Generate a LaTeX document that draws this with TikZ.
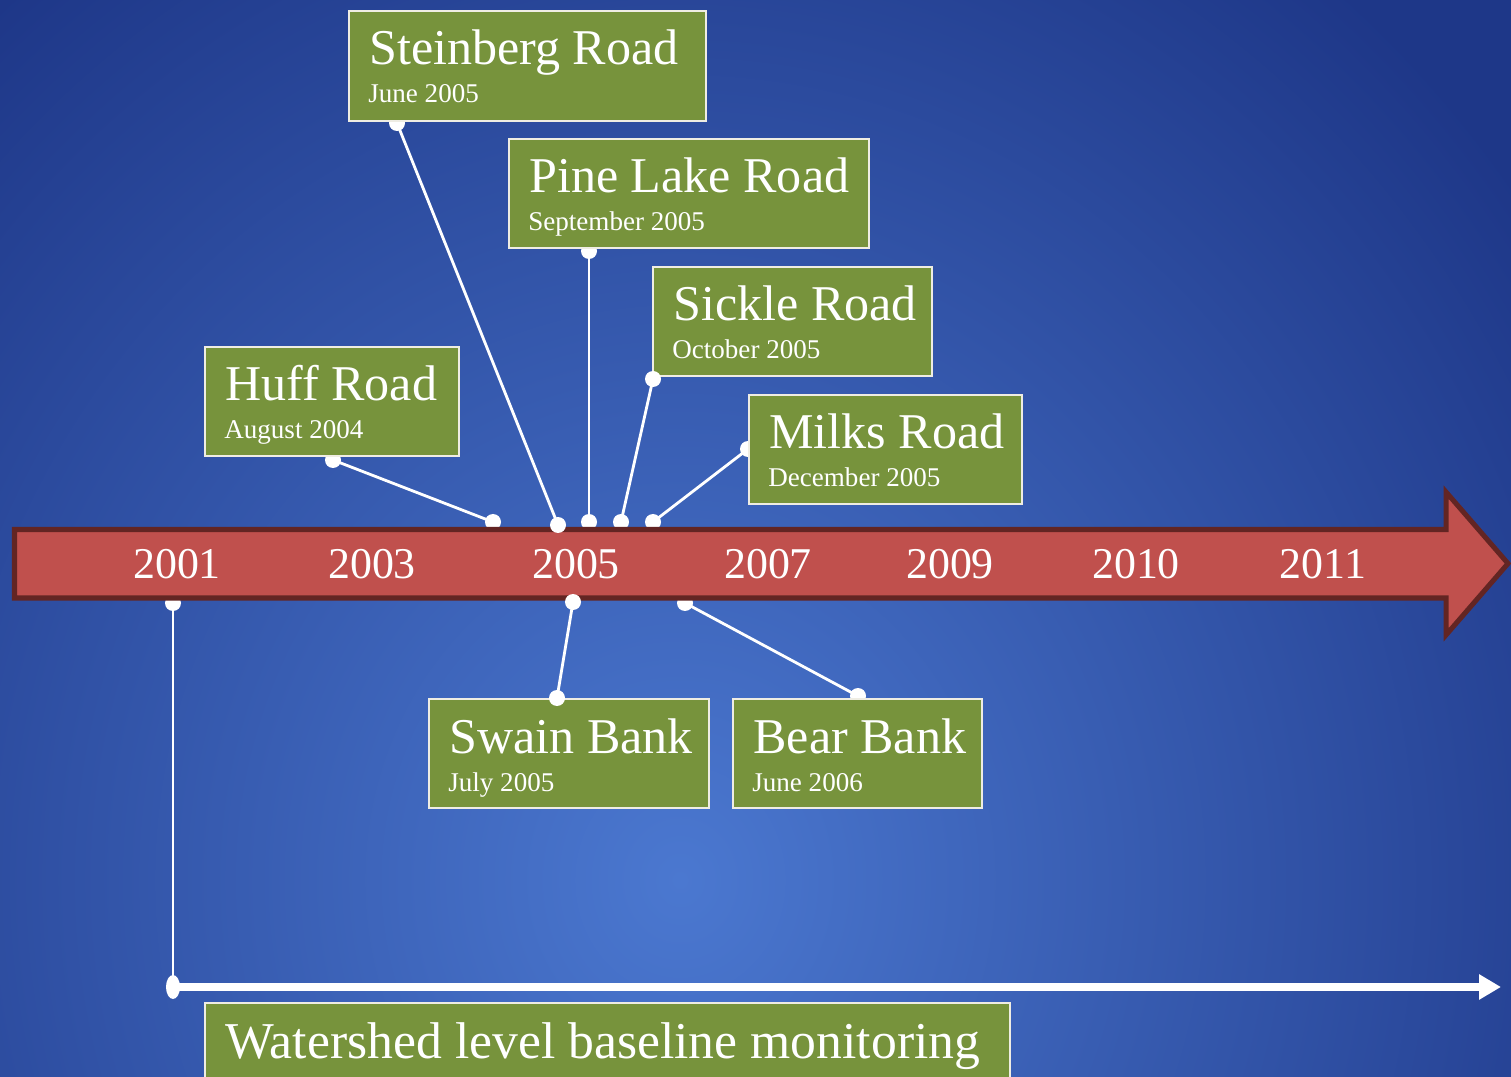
\documentclass[tikz,border=0pt]{standalone}
\usepackage{fontspec}
\setmainfont{Liberation Serif}
\usetikzlibrary{fit,arrows.meta}
\definecolor{bgin}{HTML}{4B78D0}
\definecolor{bgout}{HTML}{1E3788}
\definecolor{boxgreen}{HTML}{77933C}
\definecolor{boxborder}{HTML}{EFEDE3}
\definecolor{arrowfill}{HTML}{C0504D}
\definecolor{arrowborder}{HTML}{632523}
\tikzset{
  box/.style={draw=boxborder, line width=1.2pt, fill=boxgreen, inner sep=0pt},
  ttl/.style={anchor=base west, inner sep=0pt, text=white, font=\fontsize{28.5}{30}\selectfont},
  sub/.style={anchor=base west, inner sep=0pt, text=white, font=\fontsize{15.4}{17}\selectfont},
  yr/.style={anchor=base, inner sep=0pt, text=white, font=\fontsize{25}{27}\selectfont},
  conn/.style={draw=white, line width=1.6pt},
  dot/.style={fill=white},
}
\begin{document}
\begin{tikzpicture}[x=0.2mm,y=-0.2mm]
\useasboundingbox (0,0) rectangle (1511,1077);
\clip (0,0) rectangle (1511,1077);
% background
\fill[bgout] (0,0) rectangle (1511,1077);
\shade[inner color=bgin, outer color=bgout] (680,880) ellipse (1050 and 1150);

% dot coordinates
\coordinate (huffA) at (333,460);   \coordinate (huffB) at (493,522);
\coordinate (steinA) at (397,123);  \coordinate (steinB) at (558,525);
\coordinate (pineA) at (589,251);   \coordinate (pineB) at (589,522);
\coordinate (sickA) at (653,379);   \coordinate (sickB) at (621,522);
\coordinate (milkA) at (748,449);   \coordinate (milkB) at (653,522);
\coordinate (swainA) at (573,602);  \coordinate (swainB) at (557,698);
\coordinate (bearA) at (685,603);   \coordinate (bearB) at (858,696);
\coordinate (baseA) at (173,603);   \coordinate (baseB) at (173,987);
\coordinate (baseE) at (1501,987);

% connectors (under arrow and boxes)
\draw[conn] (huffA) -- (huffB);
\draw[conn] (steinA) -- (steinB);
\draw[conn] (pineA) -- (pineB);
\draw[conn] (sickA) -- (sickB);
\draw[conn] (milkA) -- (milkB);
\draw[conn] (swainA) -- (swainB);
\draw[conn] (bearA) -- (bearB);
\draw[conn] (baseA) -- (baseB);
\draw[draw=white, line width=4pt, -{Triangle[length=12.5pt,width=13.7pt]}] (baseB) -- (baseE);
\foreach \c in {huffA,huffB,steinA,pineA,pineB,sickB,milkA,milkB,bearA,bearB,baseA}
  \fill[dot] (\c) circle (8);
\fill[dot] (baseB) ellipse (7 and 12);

% main arrow
\path[draw=arrowborder, line width=2.85pt, fill=arrowfill, line join=miter]
  (14.5,529.5) -- (1446,529.5) -- (1446,492) -- (1508,563.5) -- (1446,635) -- (1446,598) -- (14.5,598) -- cycle;
\node[yr] (y2001) at (177,579) {2001};
\node[yr] (y2003) at (372,579) {2003};
\node[yr] (y2005) at (576,579) {2005};
\node[yr] (y2007) at (768,579) {2007};
\node[yr] (y2009) at (950,579) {2009};
\node[yr] (y2010) at (1136,579) {2010};
\node[yr] (y2011) at (1323,579) {2011};

% boxes
\node[box, fit={(349,11) (706,121)}] (stein) {};
\node[ttl] (steinT) at (369,65) {Steinberg Road};
\node[sub] (steinS) at (368,103) {June 2005};

\node[box, fit={(509,139) (869,248)}] (pine) {};
\node[ttl] (pineT) at (529,193) {Pine Lake Road};
\node[sub] (pineS) at (528,231) {September 2005};

\node[box, fit={(653,267) (932,376)}] (sick) {};
\node[ttl] (sickT) at (673,321) {Sickle Road};
\node[sub] (sickS) at (672,359) {October 2005};

\node[box, fit={(205,347) (459,456)}] (huff) {};
\node[ttl] (huffT) at (225,401) {Huff Road};
\node[sub] (huffS) at (224,439) {August 2004};

\node[box, fit={(749,395) (1022,504)}] (milk) {};
\node[ttl] (milkT) at (769,449) {Milks Road};
\node[sub] (milkS) at (768,487) {December 2005};

\node[box, fit={(429,699) (709,808)}] (swain) {};
\node[ttl] (swainT) at (449,753) {Swain Bank};
\node[sub] (swainS) at (448,791) {July 2005};

\node[box, fit={(733,699) (982,808)}] (bear) {};
\node[ttl] (bearT) at (753,753) {Bear Bank};
\node[sub] (bearS) at (752,791) {June 2006};

\node[box, fit={(205,1003) (1010,1100)}] (water) {};
\node[ttl, font=\fontsize{29.4}{31}\selectfont] (waterT) at (225,1058) {Watershed level baseline monitoring};

% dots drawn on top
\foreach \c in {steinB,sickA,swainA,swainB}
  \fill[dot] (\c) circle (8);
\end{tikzpicture}
\end{document}
